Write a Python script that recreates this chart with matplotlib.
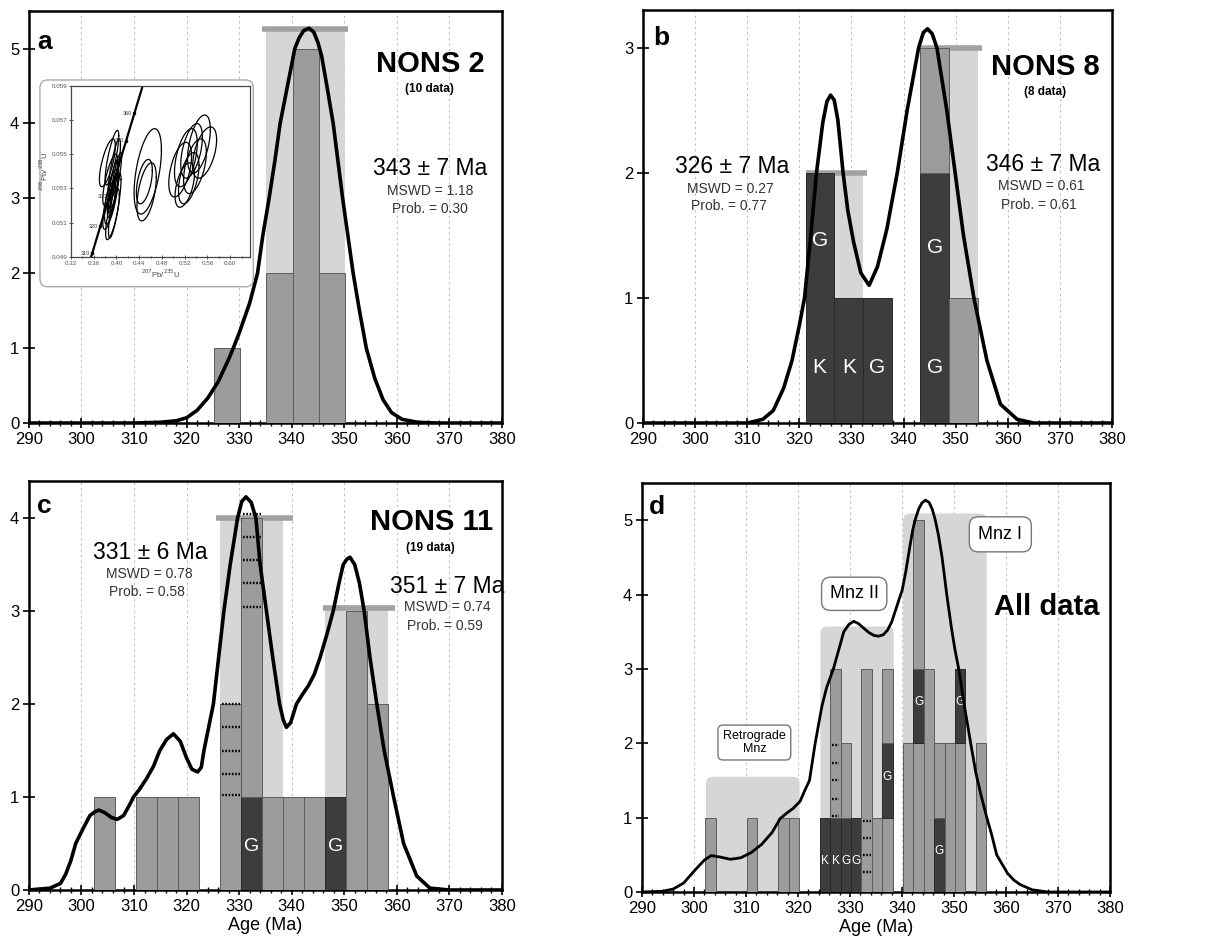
import numpy as np
import matplotlib
matplotlib.use('Agg')
import matplotlib.pyplot as plt
from matplotlib.patches import Rectangle, FancyBboxPatch
from matplotlib.ticker import MultipleLocator

plt.rcParams['font.family'] = ['Liberation Sans', 'DejaVu Sans']

# ============ 数据 ============
# --- a : NONS 2 ---
a_width = 5.0
a_left = [325.2, 335.2, 340.2, 345.2]
a_bottom = [0, 0, 0, 0]
a_height = [1, 2, 5, 2]
a_kind = ['m', 'm', 'm', 'm']
a_mean_lo = [335.2]
a_mean_hi = [350.2]
a_mean_top = [5.26]
a_bar_lo = [334.3]
a_bar_hi = [350.7]
a_curve_x = [290, 310, 315, 318, 320, 322, 324, 326, 328, 329, 330, 332, 333.5, 334.5,
             335.7, 336.8, 337.8, 339.2, 340.6, 341.4, 342.3, 343.3, 344.2, 345.0, 345.7,
             346.7, 347.9, 348.8, 349.7, 350.7, 351.7, 352.9, 354.2, 355.8, 357.4, 359,
             361, 364, 368, 380]
a_curve_y = [0, 0, 0.01, 0.03, 0.07, 0.17, 0.33, 0.55, 0.85, 1.02, 1.2, 1.6, 2.0, 2.5,
             3.0, 3.5, 4.0, 4.5, 5.0, 5.14, 5.24, 5.27, 5.22, 5.08, 4.9,
             4.5, 4.0, 3.5, 3.0, 2.5, 2.0, 1.5, 1.0, 0.6, 0.31, 0.14,
             0.05, 0.01, 0, 0]

# 谐和图插图（inset）
conc_x = [0.3555, 0.446]
conc_y = [0.049, 0.059]
conc_tick_x = [0.3571, 0.3717, 0.3868, 0.4012, 0.4165, 0.4316]
conc_tick_y = [0.0492, 0.0508, 0.0525, 0.0541, 0.0558, 0.0574]
conc_ages = ['310', '320', '330', '340', '350', '360']
ell_cx = [0.384, 0.392, 0.396, 0.389, 0.394, 0.391, 0.397, 0.393, 0.399, 0.387, 0.395,
          0.455, 0.449, 0.453,
          0.512, 0.522, 0.532, 0.545, 0.527, 0.538, 0.555, 0.520]
ell_cy = [0.0545, 0.0548, 0.0541, 0.0535, 0.0530, 0.0525, 0.0520, 0.0515, 0.0535, 0.0520,
          0.0528,
          0.0540, 0.0534, 0.0528,
          0.0541, 0.0548, 0.0552, 0.0556, 0.0536, 0.0543, 0.0551, 0.0532]
ell_sx = [0.014, 0.012, 0.011, 0.013, 0.010, 0.012, 0.011, 0.012, 0.010, 0.011, 0.009,
          0.024, 0.014, 0.017,
          0.020, 0.020, 0.019, 0.020, 0.018, 0.020, 0.021, 0.017]
ell_sy = [0.0014, 0.0016, 0.0018, 0.0015, 0.0017, 0.0016, 0.0019, 0.0015, 0.0016, 0.0014,
          0.0012,
          0.0025, 0.0013, 0.0017,
          0.0016, 0.0017, 0.0016, 0.0017, 0.0015, 0.0016, 0.0015, 0.0013]
ell_rho = [0.7, 0.8, 0.8, 0.75, 0.8, 0.7, 0.8, 0.75, 0.85, 0.7, 0.8,
           0.5, 0.5, 0.5,
           0.5, 0.5, 0.5, 0.5, 0.5, 0.5, 0.5, 0.5]

# --- b : NONS 8 ---
b_width = 5.5
b_left = [321.2, 326.7, 332.2, 343.2, 343.2, 348.7]
b_bottom = [0, 0, 0, 0, 2, 0]
b_height = [2, 1, 1, 2, 1, 1]
b_kind = ['d', 'd', 'd', 'd', 'm', 'm']
b_mean_lo = [321.2, 343.2]
b_mean_hi = [332.2, 354.2]
b_mean_top = [2.0, 3.0]
b_bar_lo = [321.2, 343.2]
b_bar_hi = [333.0, 355.0]
b_lab_x = [323.9, 323.9, 329.5, 335.0, 346.0, 346.0]
b_lab_y = [1.46, 0.44, 0.44, 0.44, 1.40, 0.44]
b_lab = ['G', 'K', 'K', 'G', 'G', 'G']
b_curve_x = [290, 310, 313, 315, 317, 318.6, 320, 321, 322.2, 323.3, 324.5, 325.3, 326.0,
             326.7, 327.4, 328.4, 329.3, 330.4, 331.8, 333.4, 335, 336.8, 338.8, 340.7,
             342.9, 343.8, 344.6, 345.5, 346.4, 348.3, 349.9, 351.5, 353.5, 356.0, 358.6,
             361.8, 365, 380]
b_curve_y = [0, 0, 0.03, 0.1, 0.28, 0.5, 0.78, 1.0, 1.5, 2.0, 2.4, 2.57, 2.62,
             2.58, 2.42, 2.0, 1.7, 1.45, 1.2, 1.10, 1.25, 1.55, 2.0, 2.5,
             3.0, 3.12, 3.15, 3.11, 3.0, 2.5, 2.0, 1.5, 1.0, 0.5, 0.15,
             0.03, 0, 0]

# --- c : NONS 11 ---
c_width = 4.0
c_left = [302.4, 310.4, 314.4, 318.4, 326.4, 330.4, 330.4, 334.4, 338.4, 342.4, 346.4,
          350.4, 354.4]
c_bottom = [0, 0, 0, 0, 0, 0, 1, 0, 0, 0, 0, 0, 0]
c_height = [1, 1, 1, 1, 2, 1, 3, 1, 1, 1, 1, 3, 2]
c_kind = ['m', 'm', 'm', 'm', 'm', 'd', 'm', 'm', 'm', 'm', 'd', 'm', 'm']
c_mean_lo = [326.4, 346.4]
c_mean_hi = [338.4, 358.4]
c_mean_top = [4.0, 3.03]
c_bar_lo = [325.6, 345.9]
c_bar_hi = [340.2, 359.7]
c_dot_left = [326.4] * 5 + [330.4] * 5
c_dot_y = [1.02, 1.25, 1.5, 1.75, 2.0, 3.05, 3.3, 3.55, 3.8, 4.05]
c_lab_x = [332.4, 348.4]
c_lab_y = [0.47, 0.47]
c_lab = ['G', 'G']
c_curve_x = [290, 294, 296, 297, 298, 298.9, 300.3, 301.6, 302.5, 303.3, 304.5, 305.7,
             306.8, 308, 309, 309.9, 311, 312.4, 313.7, 314.9, 316.2, 317.5, 318.8, 320,
             321, 322.1, 322.8, 323.3, 324.2, 325.1, 326.1, 327.1, 328.3, 329.7, 330.5,
             331.3, 332.3, 333.2, 334.0, 335.2, 336.4, 337.7, 338.4, 339.0, 339.8, 340.9,
             342, 343.2, 344.3, 345.4, 346.7, 347.9, 349.0, 349.8, 350.5, 351.1, 352,
             352.9, 353.8, 354.9, 356.2, 357.6, 359.4, 361.3, 363.8, 366.3, 370, 380]
c_curve_y = [0, 0.02, 0.07, 0.17, 0.32, 0.5, 0.66, 0.8, 0.84, 0.86, 0.83, 0.78,
             0.76, 0.8, 0.9, 1.0, 1.08, 1.2, 1.33, 1.5, 1.62, 1.68, 1.6, 1.42,
             1.3, 1.27, 1.32, 1.5, 1.75, 2.0, 2.5, 3.0, 3.5, 4.0, 4.18,
             4.23, 4.17, 4.0, 3.5, 3.0, 2.5, 2.0, 1.83, 1.75, 1.8, 2.0,
             2.1, 2.2, 2.32, 2.5, 2.75, 3.0, 3.3, 3.5, 3.56, 3.58, 3.5,
             3.3, 3.0, 2.5, 2.0, 1.5, 1.0, 0.5, 0.15, 0.02, 0, 0]

# --- d : All data ---
d_width = 2.0
d_left = [302.2, 310.2, 316.2, 318.2,
          324.2, 326.2, 326.2, 328.2, 328.2, 330.2, 332.2, 334.2, 336.2, 336.2, 336.2,
          340.2, 342.2, 342.2, 342.2, 344.2, 346.2, 346.2, 348.2, 350.2, 350.2, 354.2]
d_bottom = [0, 0, 0, 0,
            0, 0, 1, 0, 1, 0, 0, 0, 0, 1, 2,
            0, 0, 2, 3, 0, 0, 1, 0, 0, 2, 0]
d_height = [1, 1, 1, 1,
            1, 1, 2, 1, 1, 1, 3, 1, 1, 1, 1,
            2, 2, 1, 2, 3, 1, 1, 2, 2, 1, 2]
d_kind = ['m', 'm', 'm', 'm',
          'd', 'd', 'm', 'd', 'm', 'd', 'm', 'm', 'm', 'd', 'm',
          'm', 'm', 'd', 'm', 'm', 'd', 'm', 'm', 'm', 'd', 'm']
d_group_lo = [302.3, 324.3, 340.2]
d_group_hi = [320.3, 338.4, 356.3]
d_group_top = [1.55, 3.57, 5.09]
d_dot_left = [326.2] * 5 + [332.2] * 4
d_dot_y = [1.02, 1.25, 1.5, 1.74, 1.98, 0.27, 0.5, 0.73, 0.96]
d_lab_x = [325.2, 327.2, 329.2, 331.2, 337.2, 343.2, 351.2, 347.2]
d_lab_y = [0.42, 0.42, 0.42, 0.42, 1.55, 2.55, 2.55, 0.55]
d_lab = ['K', 'K', 'G', 'G', 'G', 'G', 'G', 'G']
d_curve_x = [290, 294, 296, 298, 300, 302, 303.3, 305, 307, 309, 311, 313, 315, 316.6,
             318, 319, 320.4, 321.2, 322.2, 323.3, 324.2, 324.6, 325.5, 326.8, 327.8,
             328.8, 329.8, 330.7, 331.6, 332.6, 333.6, 334.6, 335.5, 336.4, 337.2, 338,
             338.8, 339.5, 340.0, 340.7, 341.4, 342, 342.5, 343.2, 343.8, 344.5, 345.2,
             345.8, 346.4, 347.0, 347.7, 348.6, 349.5, 350.2, 350.9, 352, 353.2, 354.2,
             355.2, 356.3, 357.2, 358.2, 359.2, 360.3, 361.5, 362.7, 365, 368, 380]
d_curve_y = [0, 0.01, 0.04, 0.12, 0.28, 0.43, 0.49, 0.47, 0.44, 0.46, 0.53, 0.64, 0.8,
             0.99, 1.07, 1.12, 1.22, 1.35, 1.5, 2.0, 2.35, 2.5, 2.75, 3.0, 3.25,
             3.5, 3.6, 3.64, 3.61, 3.55, 3.49, 3.45, 3.44, 3.46, 3.52, 3.63,
             3.8, 3.95, 4.05, 4.3, 4.6, 4.85, 5.0, 5.15, 5.23, 5.27, 5.24,
             5.15, 5.0, 4.8, 4.5, 4.0, 3.55, 3.25, 3.0, 2.5, 2.0, 1.6,
             1.3, 1.0, 0.78, 0.5, 0.38, 0.25, 0.16, 0.1, 0.03, 0, 0]

# ============ 样式 ============
C_MED = '#9c9c9c'
C_DARK = '#3d3d3d'
C_LIGHT = '#d6d6d6'
C_TOP = '#a2a2a2'


def setup_axes(ax, ymax):
    ax.set_xlim(290, 380)
    ax.set_ylim(0, ymax)
    ax.xaxis.set_major_locator(MultipleLocator(10))
    ax.xaxis.set_minor_locator(MultipleLocator(2))
    ax.yaxis.set_major_locator(MultipleLocator(1))
    ax.tick_params(axis='x', which='major', direction='inout', length=7, width=1.2,
                   labelsize=12, pad=3)
    ax.tick_params(axis='x', which='minor', direction='inout', length=5, width=1.0)
    ax.tick_params(axis='y', which='major', direction='inout', length=8, width=1.2,
                   labelsize=12, pad=3)
    ax.grid(axis='x', which='major', linestyle=(0, (2, 3)), color='#bdbdbd', lw=0.8)
    ax.set_axisbelow(True)
    for s in ax.spines.values():
        s.set_linewidth(1.8)


def draw_bars(ax, left, bottom, height, kind, width):
    for x0, b0, h, k in zip(left, bottom, height, kind):
        if k == 'd':
            fc, ec = C_DARK, '#2a2a2a'
        else:
            fc, ec = C_MED, '#5c5c5c'
        ax.add_patch(Rectangle((x0, b0), width, h, facecolor=fc, edgecolor=ec,
                               lw=0.7, zorder=3))


def draw_means(ax, lo, hi, top, bar_lo, bar_hi):
    for x0, x1, t in zip(lo, hi, top):
        ax.add_patch(Rectangle((x0, 0), x1 - x0, t, facecolor=C_LIGHT,
                               edgecolor='none', zorder=1))
    for x0, x1, t in zip(bar_lo, bar_hi, top):
        ax.plot([x0, x1], [t, t], color=C_TOP, lw=4, solid_capstyle='butt', zorder=2)


def draw_dots(ax, left, ys, width):
    for x0, y in zip(left, ys):
        ax.plot([x0 + 0.25, x0 + width - 0.25], [y, y], color='black', lw=1.7,
                linestyle=(0, (0.7, 0.7)), zorder=4)


def draw_labels(ax, xs, ys, labs, size):
    for x, y, t in zip(xs, ys, labs):
        ax.text(x, y, t, color='white', fontsize=size, ha='center', va='center', zorder=5)


fig = plt.figure(figsize=(12.05, 9.46), dpi=100)
ax_a = fig.add_axes([0.024, 0.5528, 0.3925, 0.4355])
ax_b = fig.add_axes([0.5336, 0.5528, 0.3892, 0.4366])
ax_c = fig.add_axes([0.024, 0.0592, 0.3925, 0.4323])
ax_d = fig.add_axes([0.5328, 0.0571, 0.3884, 0.4323])

# ---------- a ----------
ax = ax_a
setup_axes(ax, 5.5)
draw_means(ax, a_mean_lo, a_mean_hi, a_mean_top, a_bar_lo, a_bar_hi)
draw_bars(ax, a_left, a_bottom, a_height, a_kind, a_width)
ax.plot(a_curve_x, a_curve_y, color='black', lw=2.6, zorder=6, solid_joinstyle='round')
ax.text(291.5, 4.99, 'a', fontsize=19, fontweight='bold', va='baseline')
ax.text(366.3, 4.69, 'NONS 2', fontsize=21, fontweight='bold', ha='center', va='baseline')
ax.text(366.3, 4.42, '(10 data)', fontsize=8.5, fontweight='bold', ha='center', va='baseline')
ax.text(366.3, 3.31, '343 ± 7 Ma', fontsize=16.5, ha='center', va='baseline')
ax.text(366.3, 3.05, 'MSWD = 1.18', fontsize=10, ha='center', va='baseline', color='#333')
ax.text(366.3, 2.81, 'Prob. = 0.30', fontsize=10, ha='center', va='baseline', color='#333')

# 插图外框
asp_a = (5.5 / 412) / (90 / 473)
ax.add_patch(FancyBboxPatch((292.1, 1.82), 40.6, 2.76,
                            boxstyle='round,pad=0,rounding_size=1.5',
                            mutation_aspect=asp_a, facecolor='white',
                            edgecolor='#aaaaaa', lw=1.0, zorder=7))
ins = ax.inset_axes([298.0, 2.22, 34.1, 2.28], transform=ax.transData)
ins.set_zorder(8)
ins.set_xlim(0.32, 0.635)
ins.set_ylim(0.049, 0.059)
ins.set_xticks(np.arange(0.32, 0.61, 0.04))
ins.set_yticks(np.arange(0.049, 0.0595, 0.002))
ins.xaxis.set_minor_locator(MultipleLocator(0.02))
ins.set_xticklabels([f'{v:.2f}' for v in np.arange(0.32, 0.61, 0.04)])
ins.set_yticklabels([f'{v:.3f}' for v in np.arange(0.049, 0.0595, 0.002)])
ins.tick_params(labelsize=4.5, length=2.5, width=0.7, pad=1.5, colors='#555',
                direction='inout')
ins.tick_params(which='minor', length=1.5, width=0.7, direction='inout', colors='#555')
ins.set_xlabel('$^{207}$Pb/$^{235}$U', fontsize=5.5, labelpad=1.5, color='#444')
ins.set_ylabel('$^{206}$Pb/$^{238}$U', fontsize=5.5, labelpad=1, color='#444')
for s in ins.spines.values():
    s.set_linewidth(0.9)
    s.set_color('#444')
ins.plot(conc_x, conc_y, color='black', lw=1.6)
ins.plot(conc_tick_x, conc_tick_y, 'o', color='black', ms=1.5)
for x, y, t in zip(conc_tick_x, conc_tick_y, conc_ages):
    ins.text(x - 0.004, y, t, fontsize=4, ha='right', va='center', color='#333')
t = np.linspace(0, 2 * np.pi, 100)
for cx, cy, sx, sy, r in zip(ell_cx, ell_cy, ell_sx, ell_sy, ell_rho):
    ex = cx + sx * np.cos(t)
    ey = cy + sy * (r * np.cos(t) + np.sqrt(1 - r * r) * np.sin(t))
    ins.plot(ex, ey, color='black', lw=0.9)

# ---------- b ----------
ax = ax_b
setup_axes(ax, 3.3)
draw_means(ax, b_mean_lo, b_mean_hi, b_mean_top, b_bar_lo, b_bar_hi)
draw_bars(ax, b_left, b_bottom, b_height, b_kind, b_width)
draw_labels(ax, b_lab_x, b_lab_y, b_lab, 15)
ax.plot(b_curve_x, b_curve_y, color='black', lw=2.6, zorder=6, solid_joinstyle='round')
ax.text(292.0, 3.02, 'b', fontsize=19, fontweight='bold', va='baseline')
ax.text(367.2, 2.78, 'NONS 8', fontsize=21, fontweight='bold', ha='center', va='baseline')
ax.text(367.2, 2.62, '(8 data)', fontsize=8.5, fontweight='bold', ha='center', va='baseline')
ax.text(307.1, 2.0, '326 ± 7 Ma', fontsize=16.5, ha='center', va='baseline')
ax.text(306.8, 1.84, 'MSWD = 0.27', fontsize=10, ha='center', va='baseline', color='#333')
ax.text(306.4, 1.70, 'Prob. = 0.77', fontsize=10, ha='center', va='baseline', color='#333')
ax.text(366.7, 2.01, '346 ± 7 Ma', fontsize=16.5, ha='center', va='baseline')
ax.text(366.4, 1.86, 'MSWD = 0.61', fontsize=10, ha='center', va='baseline', color='#333')
ax.text(366.0, 1.71, 'Prob. = 0.61', fontsize=10, ha='center', va='baseline', color='#333')

# ---------- c ----------
ax = ax_c
setup_axes(ax, 4.4)
draw_means(ax, c_mean_lo, c_mean_hi, c_mean_top, c_bar_lo, c_bar_hi)
draw_bars(ax, c_left, c_bottom, c_height, c_kind, c_width)
draw_dots(ax, c_dot_left, c_dot_y, c_width)
draw_labels(ax, c_lab_x, c_lab_y, c_lab, 14)
ax.plot(c_curve_x, c_curve_y, color='black', lw=2.6, zorder=6, solid_joinstyle='round')
ax.set_xlabel('Age (Ma)', fontsize=13, labelpad=2)
ax.text(291.5, 4.06, 'c', fontsize=19, fontweight='bold', va='baseline')
ax.text(366.6, 3.87, 'NONS 11', fontsize=21, fontweight='bold', ha='center', va='baseline')
ax.text(366.3, 3.65, '(19 data)', fontsize=8.5, fontweight='bold', ha='center', va='baseline')
ax.text(313.0, 3.56, '331 ± 6 Ma', fontsize=16.5, ha='center', va='baseline')
ax.text(313.0, 3.36, 'MSWD = 0.78', fontsize=10, ha='center', va='baseline', color='#333')
ax.text(312.4, 3.16, 'Prob. = 0.58', fontsize=10, ha='center', va='baseline', color='#333')
ax.text(369.5, 3.20, '351 ± 7 Ma', fontsize=16.5, ha='center', va='baseline')
ax.text(369.7, 3.00, 'MSWD = 0.74', fontsize=10, ha='center', va='baseline', color='#333')
ax.text(369.2, 2.80, 'Prob. = 0.59', fontsize=10, ha='center', va='baseline', color='#333')

# ---------- d ----------
ax = ax_d
setup_axes(ax, 5.5)
asp_d = (5.5 / 409) / (90 / 468)
for x0, x1, top in zip(d_group_lo, d_group_hi, d_group_top):
    ax.add_patch(FancyBboxPatch((x0, -0.3), x1 - x0, top + 0.3,
                                boxstyle='round,pad=0,rounding_size=1.3',
                                mutation_aspect=asp_d, facecolor=C_LIGHT,
                                edgecolor='none', zorder=1))
draw_bars(ax, d_left, d_bottom, d_height, d_kind, d_width)
draw_dots(ax, d_dot_left, d_dot_y, d_width)
draw_labels(ax, d_lab_x, d_lab_y, d_lab, 8.5)
ax.plot(d_curve_x, d_curve_y, color='black', lw=2.0, zorder=6, solid_joinstyle='round')
ax.set_xlabel('Age (Ma)', fontsize=13, labelpad=2)
ax.text(291.3, 5.08, 'd', fontsize=19, fontweight='bold', va='baseline')
ax.text(367.8, 3.73, 'All data', fontsize=21, fontweight='bold', ha='center', va='baseline')
box_kw = dict(boxstyle='round,pad=0.45,rounding_size=0.5', fc='white', ec='#777', lw=1.0)
ax.text(330.8, 4.01, 'Mnz II', fontsize=13, ha='center', va='center', bbox=box_kw, zorder=7)
ax.text(358.9, 4.81, 'Mnz I', fontsize=13, ha='center', va='center',
        bbox=dict(boxstyle='round,pad=0.5,rounding_size=0.5', fc='white', ec='#777', lw=1.0),
        zorder=7)
ax.text(311.6, 2.01, 'Retrograde\nMnz', fontsize=9, ha='center', va='center',
        linespacing=1.1, bbox=dict(boxstyle='round,pad=0.4,rounding_size=0.4',
                                   fc='white', ec='#777', lw=1.0), zorder=7)

fig.savefig('out.png', dpi=100)
